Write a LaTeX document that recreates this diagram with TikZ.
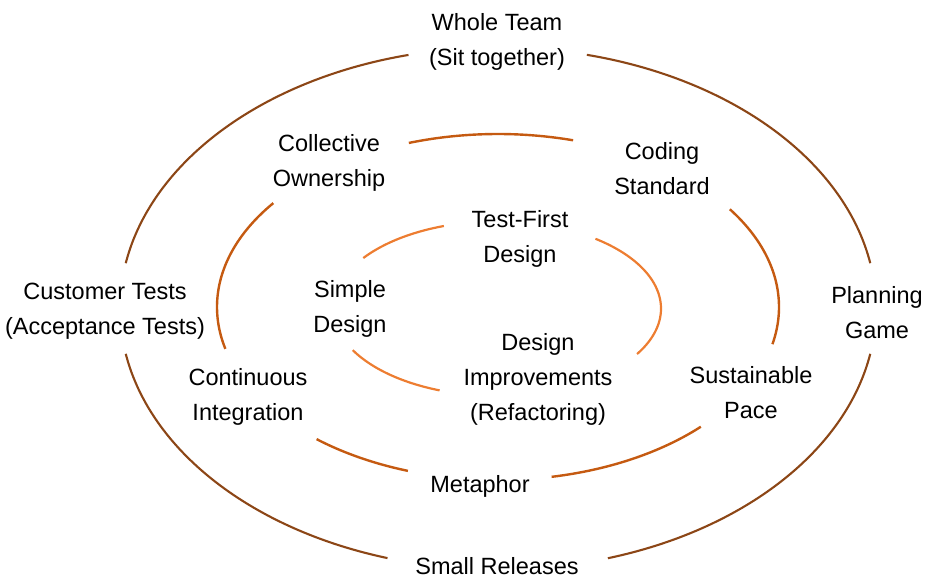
\documentclass[tikz,border=0pt]{standalone}
\usepackage{fontspec}
\setmainfont{Liberation Sans}
\definecolor{outerc}{RGB}{140,70,22}
\definecolor{midc}{RGB}{197,90,17}
\definecolor{innerc}{RGB}{237,125,49}
\newcommand\ellarc[7]{\draw[#1] plot[domain=#6:#7, samples=80, smooth, variable=\t] ({#2+#4*cos(\t)},{#3+#5*sin(\t)});}
\begin{document}
\begin{tikzpicture}[x=1pt,y=-1pt,
  lbl/.style={align=center, inner sep=0pt, font=\fontsize{23.5}{35}\selectfont, text=black},
  outerarc/.style={draw=outerc, line width=2.1pt},
  midarc/.style={draw=midc, line width=2.4pt},
  innerarc/.style={draw=innerc, line width=2.2pt}]
\useasboundingbox (0,0) rectangle (925,578);
% outer ellipse: centre (498,308.5), radii 378 x 261
\ellarc{outerarc}{498}{308.5}{378}{261}{-76.4}{-10}
\ellarc{outerarc}{498}{308.5}{378}{261}{10}{73.1}
\ellarc{outerarc}{498}{308.5}{378}{261}{107}{170}
\ellarc{outerarc}{498}{308.5}{378}{261}{190}{256.3}
% middle ellipse: centre (498,307), radii 281 x 173
\ellarc{midarc}{498}{307}{281}{173}{-108.5}{-74.5}
\ellarc{midarc}{498}{307}{281}{173}{-34.4}{12.4}
\ellarc{midarc}{498}{307}{281}{173}{43.8}{79}
\ellarc{midarc}{498}{307}{281}{173}{108.7}{130.2}
\ellarc{midarc}{498}{307}{281}{173}{166}{216.9}
% inner ellipse: centre (497,308.6), radii 164 x 87.3
\ellarc{innerarc}{497}{308.6}{164}{87.3}{215.4}{251.1}
\ellarc{innerarc}{497}{308.6}{164}{87.3}{-53.1}{31.35}
\ellarc{innerarc}{497}{308.6}{164}{87.3}{110.5}{151.6}
% labels
\node[lbl] (whole) at (497,42) {Whole Team\\(Sit together)};
\node[lbl] (collective) at (329,163) {Collective\\Ownership};
\node[lbl] (coding) at (662,168.5) {Coding\\Standard};
\node[lbl] (testfirst) at (520,238.5) {Test-First\\Design};
\node[lbl] (customer) at (105,311.5) {Customer Tests\\(Acceptance Tests)};
\node[lbl] (simple) at (350,308.5) {Simple\\Design};
\node[lbl] (planning) at (877,312.5) {Planning\\Game};
\node[lbl] (designimp) at (538,379.5) {Design\\Improvements\\(Refactoring)};
\node[lbl] (continuous) at (248,396.5) {Continuous\\Integration};
\node[lbl] (sustainable) at (751,392.5) {Sustainable\\Pace};
\node[lbl] (metaphor) at (480,486) {Metaphor};
\node[lbl] (small) at (497,566) {Small Releases};
\end{tikzpicture}
\end{document}
